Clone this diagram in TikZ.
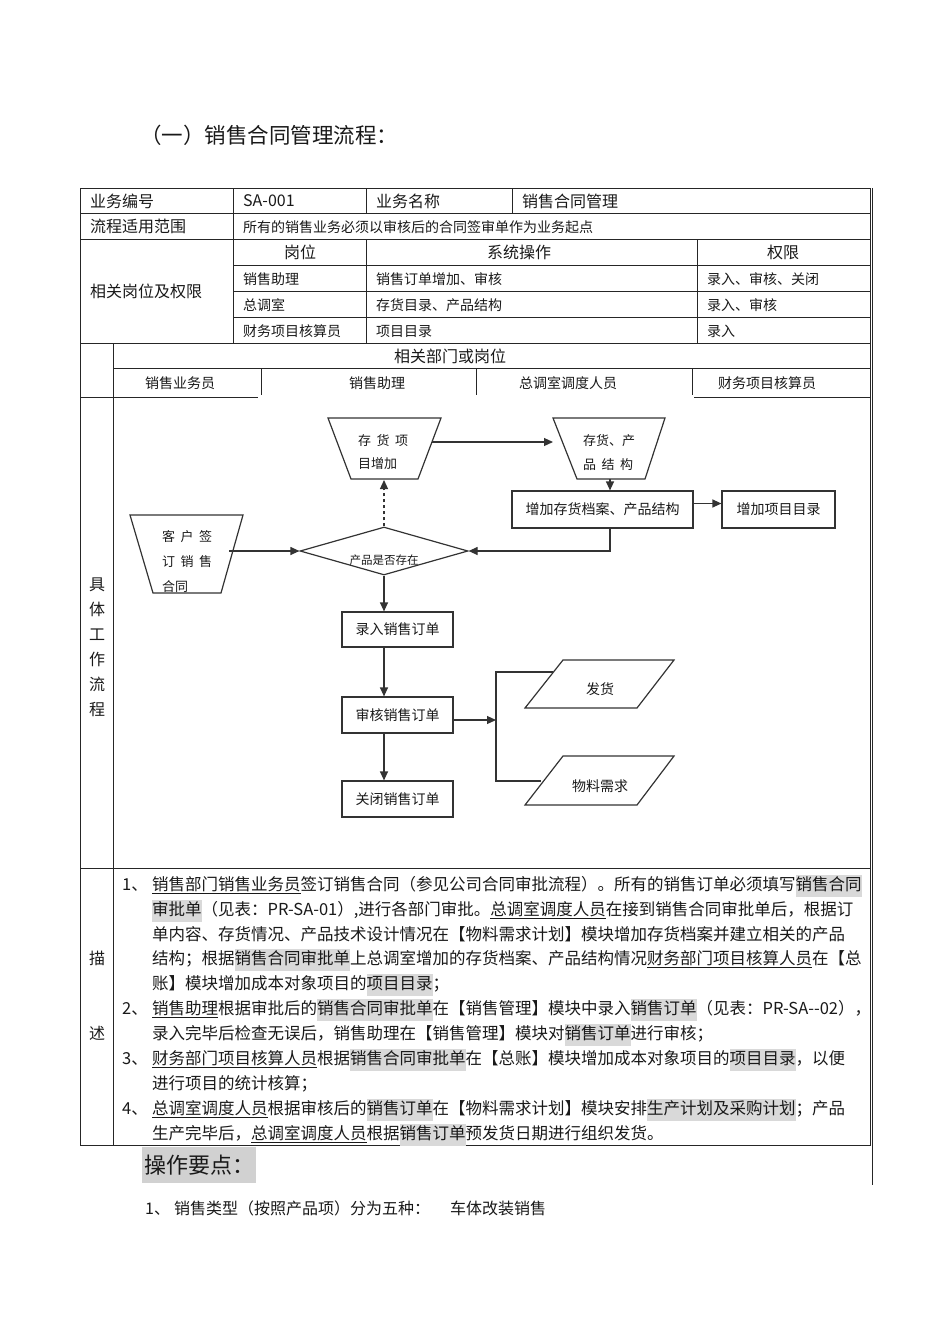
\documentclass[tikz,border=0pt]{standalone}
\usepackage{fontspec}
\setmainfont{Noto Sans CJK SC}
\usetikzlibrary{shapes.geometric,arrows.meta,positioning}
\XeTeXlinebreaklocale "zh"
\XeTeXlinebreakskip=0pt plus 1pt minus 0.5pt

\newcommand\hlt[1]{{\setlength\fboxsep{0pt}\colorbox{black!15}{\strut#1}}}
\newcommand\ult[1]{\underline{#1}}
\newcommand\jline[1]{\makebox[710pt][s]{\strut#1}}
\newcommand\gap{\hspace{5.5pt}}

\tikzset{
  tline/.style={draw=black!85, line width=0.9pt},
  fline/.style={draw=black!80, line width=1.2pt},
  arr/.style={fline, -{Triangle[length=9pt,width=8pt]}},
  ordbox/.style={draw=black!80, line width=1.2pt, minimum width=111pt, minimum height=36pt, inner sep=0pt, font=\fontsize{14}{16}\selectfont},
  cell/.style={anchor=west, inner sep=0pt, font=\fontsize{16}{18}\selectfont},
  scell/.style={anchor=west, inner sep=0pt, font=\fontsize{14}{16}\selectfont},
  head/.style={inner sep=0pt, font=\fontsize{16}{18}\selectfont},
  shead/.style={inner sep=0pt, font=\fontsize{14}{16}\selectfont},
  trtext/.style={anchor=west, inner sep=0pt, font=\fontsize{13}{15}\selectfont},
  desc/.style={anchor=base west, inner sep=0pt, font=\fontsize{16.5}{22}\selectfont},
}

\begin{document}
\begin{tikzpicture}[x=1pt, y=-1pt, black!90]
\useasboundingbox (0,0) rectangle (950,1344);

% title
\node[anchor=west, inner sep=0pt, font=\fontsize{21.5}{24}\selectfont] (title) at (140,135) {（一）销售合同管理流程：};

% table frame
\draw[tline] (80,188) rectangle (870,1145);
\draw[tline] (872,188) -- (872,1185);
\draw[tline] (80,213) -- (870,213);
\draw[tline] (80,239) -- (870,239);
\foreach \yy in {265,291,317}
  \draw[tline] (233,\yy) -- (870,\yy);
\draw[tline] (80,343) -- (870,343);
\draw[tline] (113,368) -- (870,368);
\draw[tline] (80,397) -- (258,397);
\draw[tline] (694,397) -- (870,397);
\draw[tline] (80,868) -- (870,868);
\draw[tline] (233,188) -- (233,343);
\draw[tline] (366,188) -- (366,213);
\draw[tline] (366,239) -- (366,343);
\draw[tline] (512,188) -- (512,213);
\draw[tline] (697,239) -- (697,343);
\draw[tline] (113,343) -- (113,1145);
\foreach \xx in {261,476,692}
  \draw[tline] (\xx,368) -- (\xx,395);

% table texts
\node[cell] (code) at (90,201) {业务编号};
\node[cell] (codev) at (243,201) {SA-001};
\node[cell] (bname) at (376,201) {业务名称};
\node[cell] (bnamev) at (522,201) {销售合同管理};
\node[cell] (scope) at (90,226) {流程适用范围};
\node[scell] (scopev) at (243,227) {所有的销售业务必须以审核后的合同签审单作为业务起点};
\node[cell] (roles) at (90,291) {相关岗位及权限};
\node[head] (hpost) at (300,252) {岗位};
\node[head] (hop) at (519,252) {系统操作};
\node[head] (hright) at (783,252) {权限};
\node[scell] (p1) at (243,279) {销售助理};
\node[scell] (o1) at (376,279) {销售订单增加、审核};
\node[scell] (r1) at (707,279) {录入、审核、关闭};
\node[scell] (p2) at (243,305) {总调室};
\node[scell] (o2) at (376,305) {存货目录、产品结构};
\node[scell] (r2) at (707,305) {录入、审核};
\node[scell] (p3) at (243,331) {财务项目核算员};
\node[scell] (o3) at (376,331) {项目目录};
\node[scell] (r3) at (707,331) {录入};
\node[head] (dept) at (450,356) {相关部门或岗位};
\node[shead] (lane1) at (180,383) {销售业务员};
\node[shead] (lane2) at (377,383) {销售助理};
\node[shead] (lane3) at (568,383) {总调室调度人员};
\node[shead] (lane4) at (767,383) {财务项目核算员};
\node[head, align=center, font=\fontsize{16}{25}\selectfont] (flowlbl) at (97,647.5) {具\\体\\工\\作\\流\\程};
\node[head] (desca) at (97,958) {描};
\node[head] (descb) at (97,1033) {述};

% flow chart
\draw[fline] (130,515) -- (243,515) -- (221,593) -- (153,593) -- cycle;
\node[trtext] (cust1) at (162,537) {客\gap 户\gap 签};
\node[trtext] (cust2) at (162,562) {订\gap 销\gap 售};
\node[trtext] (cust3) at (162,587) {合同};
\coordinate (custR) at (229,551);

\draw[fline] (328,418) -- (441,418) -- (418,479) -- (351,479) -- cycle;
\node[trtext] (stock1) at (358,441) {存\gap 货\gap 项};
\node[trtext] (stock2) at (358,464) {目增加};
\coordinate (stockB) at (384,480);
\coordinate (stockR) at (432,442);

\draw[fline] (553,418) -- (665,418) -- (645,479) -- (577,479) -- cycle;
\node[trtext] (struct1) at (583,441) {存货、产};
\node[trtext] (struct2) at (583,465) {品\gap 结\gap 构};
\coordinate (structL) at (553,442);
\coordinate (structB) at (610,479);

\node[diamond, draw=black!80, line width=1.2pt, minimum width=168pt, minimum height=48pt, inner sep=0pt] (check) at (384,551) {};
\node[inner sep=0pt, font=\fontsize{11.5}{13}\selectfont] (checktxt) at (384,560) {产品是否存在};

\node[ordbox, minimum width=181pt, minimum height=37pt] (addinv) at (602.5,509.5) {增加存货档案、产品结构};
\node[ordbox, minimum width=113pt, minimum height=37pt] (addproj) at (778.5,509.5) {增加项目目录};
\node[ordbox, minimum height=35pt] (enter) at (397.5,629.5) {录入销售订单};
\node[ordbox] (audit) at (397.5,715) {审核销售订单};
\node[ordbox] (closeo) at (397.5,799) {关闭销售订单};

\draw[fline] (563,660) -- (674,660) -- (637,708) -- (525,708) -- cycle;
\node[inner sep=0pt, font=\fontsize{14}{16}\selectfont] (ship) at (600,689) {发货};
\coordinate (shipL) at (553,672);
\draw[fline] (563,756) -- (674,756) -- (637,805) -- (525,805) -- cycle;
\node[inner sep=0pt, font=\fontsize{14}{16}\selectfont] (mat) at (600,786) {物料需求};
\coordinate (matL) at (541,781);
\coordinate (fork) at (496,720);

\draw[arr] (custR) -- (check.west);
\draw[arr, dashed] (check.north) -- (stockB);
\draw[arr] (stockR) -- (structL);
\draw[arr] (structB) -- (structB |- addinv.north);
\draw[arr] ([yshift=6pt]addinv.east) -- ([yshift=6pt]addproj.west);
\draw[arr] (addinv.south -| structB) |- (check.east);
\draw[arr] (check.south) -- (check.south |- enter.north);
\draw[arr] (enter.south -| check) -- (audit.north -| check);
\draw[arr] (audit.south -| check) -- (closeo.north -| check);
\draw[arr] (audit.east |- fork) -- (fork);
\draw[fline] (shipL) -| (fork) |- (matL);

% description
\node[desc] (n1) at (122,890) {1、};
\node[desc] (d1) at (152,890) {\jline{\ult{销售部门销售业务员}签订销售合同（参见公司合同审批流程）。所有的销售订单必须填写\hlt{销售合同}}};
\node[desc] (d2) at (152,915) {\jline{\hlt{审批单}（见表：PR-SA-01）,进行各部门审批。\ult{总调室调度人员}在接到销售合同审批单后，根据订}};
\node[desc] (d3) at (152,940) {\jline{单内容、存货情况、产品技术设计情况在【物料需求计划】模块增加存货档案并建立相关的产品}};
\node[desc] (d4) at (152,964) {\jline{结构；根据\hlt{销售合同审批单}上总调室增加的存货档案、产品结构情况\ult{财务部门项目核算人员}在【总}};
\node[desc] (d5) at (152,989) {\strut 账】模块增加成本对象项目的\hlt{项目目录}；};
\node[desc] (n2) at (122,1014) {2、};
\node[desc] (d6) at (152,1014) {\jline{\ult{销售助理}根据审批后的\hlt{销售合同审批单}在【销售管理】模块中录入\hlt{销售订单}（见表：PR-SA-{}-02），}};
\node[desc] (d7) at (152,1039) {\strut 录入完毕后检查无误后，销售助理在【销售管理】模块对\hlt{销售订单}进行审核；};
\node[desc] (n3) at (122,1064) {3、};
\node[desc] (d8) at (152,1064) {\jline{\ult{财务部门项目核算人员}根据\hlt{销售合同审批单}在【总账】模块增加成本对象项目的\hlt{项目目录}，以便}};
\node[desc] (d9) at (152,1089) {\strut 进行项目的统计核算；};
\node[desc] (n4) at (122,1114) {4、};
\node[desc] (d10) at (152,1114) {\jline{\ult{总调室调度人员}根据审核后的\hlt{销售订单}在【物料需求计划】模块安排\hlt{生产计划及采购计划}；产品}};
\node[desc] (d11) at (152,1139) {\strut 生产完毕后，\ult{总调室调度人员}根据\hlt{销售订单}预发货日期进行组织发货。};

% key points
\node[anchor=west, fill=black!18, inner sep=2pt, minimum height=36pt, font=\fontsize{22}{24}\selectfont] (keyp) at (142,1165) {操作要点：};
\node[anchor=west, inner sep=0pt, font=\fontsize{16}{18}\selectfont] (note) at (145,1208) {1、\hspace{4pt}销售类型（按照产品项）分为五种：\hspace{20pt}车体改装销售};
\end{tikzpicture}
\end{document}
